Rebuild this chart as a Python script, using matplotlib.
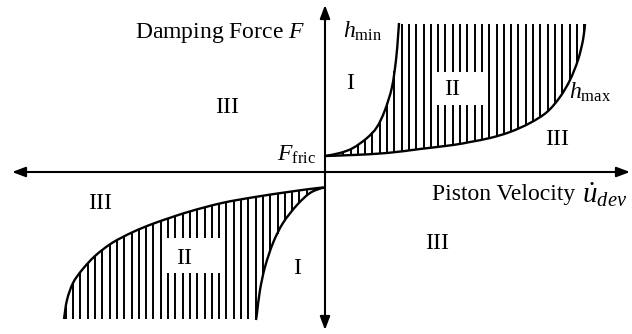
import numpy as np
import matplotlib
matplotlib.use("Agg")
import matplotlib.pyplot as plt
from matplotlib.patches import Rectangle, PathPatch
from matplotlib.path import Path

plt.rcParams["font.family"] = ["Liberation Serif", "DejaVu Serif"]
plt.rcParams["mathtext.fontset"] = "custom"
plt.rcParams["mathtext.rm"] = "Liberation Serif"
plt.rcParams["mathtext.it"] = "Liberation Serif:italic"

# damper characteristic curves (velocity, force), friction offset at v = 0
hmin_up_v = [0, 15, 28, 42, 52, 60, 67, 71, 73, 74]
hmin_up_f = [16, 19, 24, 34, 45, 62, 85, 112, 135, 149]
hmax_up_v = [0, 28, 62, 95, 128, 145, 165, 185, 205, 222, 235, 245, 253, 258, 260]
hmax_up_f = [16, 17, 19, 23, 27, 30, 34, 40, 49, 60, 75, 92, 112, 132, 148]

hmin_lo_v = [-69, -68, -65, -60, -52, -42, -28, -15, -3, 0]
hmin_lo_f = [-148, -141, -118, -95, -71, -51, -33, -21, -16, -16]
hmax_lo_v = [-261, -258, -252, -243, -230, -213, -192, -170, -137, -103, -70, -37, -7, 0]
hmax_lo_f = [-147, -128, -111, -98, -84, -71, -60, -51, -40, -31, -25, -20, -16, -16]

F_TOP = 148
F_BOT = -147
HATCH_STEP = 7.3


def smooth_path(v, f):
    # cubic Bezier segments through the points (Catmull-Rom tangents)
    p = np.column_stack([v, f]).astype(float)
    n = len(p)
    verts = [p[0]]
    codes = [Path.MOVETO]
    for i in range(n - 1):
        p0 = p[max(i - 1, 0)]
        p3 = p[min(i + 2, n - 1)]
        c1 = p[i] + (p[i + 1] - p0) / 6
        c2 = p[i + 1] - (p3 - p[i]) / 6
        verts += [c1, c2, p[i + 1]]
        codes += [Path.CURVE4] * 3
    return Path(verts, codes)


fig = plt.figure(figsize=(6.32, 3.34), dpi=100)
ax = fig.add_axes([0, 0, 1, 1])
ax.set_xlim(-325, 307)
ax.set_ylim(-162, 172)
ax.axis("off")

# axes with arrow heads
arrow = dict(arrowstyle="<|-|>,head_length=0.8,head_width=0.3", lw=1.5,
             color="black", shrinkA=0, shrinkB=0, mutation_scale=10)
ax.annotate("", xy=(305, 0), xytext=(-313, 0), arrowprops=arrow)
ax.annotate("", xy=(0, 167), xytext=(0, -158), arrowprops=arrow)

# vertical hatching of region II
xs = np.arange(HATCH_STEP / 2, max(hmax_up_v), HATCH_STEP)
lo = np.interp(xs, hmax_up_v, hmax_up_f)
hi = np.minimum(np.interp(xs, hmin_up_v, hmin_up_f, right=F_TOP), F_TOP)
ok = hi > lo
ax.vlines(xs[ok], lo[ok], hi[ok], color="black", lw=1.4, zorder=1)

xs = -np.arange(HATCH_STEP / 2, -min(hmax_lo_v), HATCH_STEP)
hi = np.interp(xs, hmax_lo_v, hmax_lo_f)
lo = np.maximum(np.interp(xs, hmin_lo_v, hmin_lo_f, left=F_BOT), F_BOT)
ok = hi > lo
ax.vlines(xs[ok], lo[ok], hi[ok], color="black", lw=1.4, zorder=1)

for v, f in [(hmin_up_v, hmin_up_f), (hmax_up_v, hmax_up_f),
             (hmin_lo_v, hmin_lo_f), (hmax_lo_v, hmax_lo_f)]:
    ax.add_patch(PathPatch(smooth_path(v, f), fc="none", ec="black",
                           lw=1.7, zorder=3))

# white patches behind the region II labels
ax.add_patch(Rectangle((108, 67), 55, 33, fc="white", ec="none", zorder=2))
ax.add_patch(Rectangle((-162, -101), 59, 35, fc="white", ec="none", zorder=2))

fs = 17
ax.text(-190, 139, "Damping Force $F$", fontsize=fs, ha="left", va="center")
ax.text(38, 141, r"$h_{\mathrm{min}}$", fontsize=fs, ha="center", va="center")
ax.text(265, 80, r"$h_{\mathrm{max}}$", fontsize=fs, ha="center", va="center")
ax.text(-9, 17, r"$F_{\mathrm{fric}}$", fontsize=fs, ha="right", va="center")
ax.text(107, -23, "Piston Velocity", fontsize=fs, ha="left", va="center")
ax.text(257, -23, r"$\dot{u}_{dev}$", fontsize=21, ha="left", va="center")

ax.text(25, 88, "I", fontsize=fs, ha="center", va="center")
ax.text(127, 82, "II", fontsize=fs, ha="center", va="center", zorder=4)
ax.text(-98, 64, "III", fontsize=fs, ha="center", va="center")
ax.text(232, 32, "III", fontsize=fs, ha="center", va="center")
ax.text(-225, -32, "III", fontsize=fs, ha="center", va="center")
ax.text(112, -72, "III", fontsize=fs, ha="center", va="center")
ax.text(-141, -86, "II", fontsize=fs, ha="center", va="center", zorder=4)
ax.text(-28, -96, "I", fontsize=fs, ha="center", va="center")

fig.savefig("out.png", dpi=100)
